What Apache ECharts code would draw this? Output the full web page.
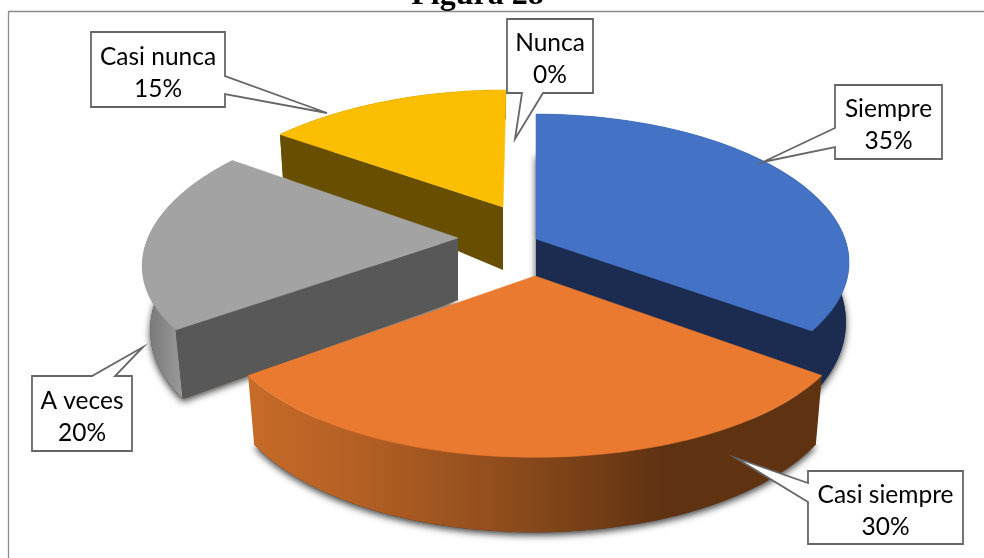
<!DOCTYPE html>
<html>
<head>
<meta charset="utf-8">
<style>html,body{margin:0;padding:0;background:#fff;overflow:hidden}#c{width:984px;height:558px}</style>
<script src="https://cdn.jsdelivr.net/npm/echarts@6/dist/echarts.min.js"></script>
</head>
<body>
<div id="c"></div>
<script>
const categories = ['Siempre', 'Casi siempre', 'A veces', 'Casi nunca', 'Nunca'];
const values = [35, 30, 20, 15, 0];
const chartTitle = 'Figura 28';

// Layout of the exploded pie: one entry per slice
const sliceLayout = [
  {cx:536,cy:239,rx:309,ry:143,kx:.16,d0:57,kd:.3,inset:.01,z:3,top:'#4472c4',rim:'#1b2c50',cut:'#1b2c50',cutEnd:true,shadow:true},
  {cx:535,cy:276,rx:315,ry:155,kx:.19,d0:60,kd:.25,inset:.021,z:4,top:'#e97a2f',rim:'orange',cut:null,shadow:true},
  {cx:458,cy:238,rx:310,ry:143,kx:.19,d0:62,kd:.19,inset:.025,z:2,top:'#a3a3a3',rim:'grey',cut:'#585858',cutStart:true,shadow:true},
  {cx:503,cy:207,rx:309,ry:134,kx:.19,d0:63,kd:.54,inset:.013,z:1,top:'#fcbe00',rim:'#674e00',cut:'#674e00',cutStart:true,skew:.026,shadow:false},
  {cx:503,cy:207,rx:309,ry:134,kx:.19,d0:63,kd:.54,inset:.013,z:0,top:'#fcbe00',rim:'#674e00',cut:null,shadow:false}
];
const KY = .145;
const calloutLayout = [
  {box:[835,85,942,159],side:'left',a:128,b:147,tip:[763,162]},
  {box:[808,471,963,544],side:'left',a:483,b:502,tip:[736,458]},
  {box:[32,376,132,451],side:'top',a:92,b:115,tip:[143,347]},
  {box:[91,32,225,107],side:'right',a:76,b:94,tip:[327,113]},
  {box:[507,19,593,93],side:'bottom',a:522,b:543,tip:[515,139]}
];

const total = values.reduce((a,b)=>a+b,0);
const starts = [];
values.reduce((acc,v,i)=>{starts[i]=acc;return acc+v;},0);

function project(L,theta,h){
  const u=Math.sin(theta), v=Math.cos(theta);
  let x=L.rx*u/(1+L.kx*v), y=-L.ry*v/(1+KY*v);
  if(L.skew) x+=-y*L.skew;
  if(h){ x*=1-L.inset; y+=L.d0*(1-L.kd*v); }
  return [L.cx+x,L.cy+y];
}
function apex(L,h){ return [L.cx,L.cy+(h?L.d0:0)]; }

function rimFill(name){
  if(name==='orange') return new echarts.graphic.LinearGradient(248,0,823,0,[
    {offset:0,color:'#c76b28'},{offset:.2,color:'#b35f24'},{offset:.45,color:'#8e4c1c'},{offset:.72,color:'#5f3212'},{offset:1,color:'#5f3212'}],true);
  if(name==='grey') return new echarts.graphic.LinearGradient(145,0,182,0,[
    {offset:0,color:'#757575'},{offset:1,color:'#9a9a9a'}],true);
  return name;
}
const SH={shadowColor:'rgba(0,0,0,.75)',shadowBlur:7,shadowOffsetX:0,shadowOffsetY:3};

function renderSlice(params,api){
  const i=params.dataIndex, val=api.value(0);
  if(!val) return {type:'group',children:[]};
  const L=sliceLayout[i];
  const a0=starts[i]/total*2*Math.PI, a1=(starts[i]+val)/total*2*Math.PI;
  const N=72, topArc=[], botArc=[];
  for(let k=0;k<=N;k++){
    const t=a0+(a1-a0)*k/N;
    topArc.push(project(L,t,false)); botArc.push(project(L,t,true));
  }
  const ch=[];
  if(L.shadow){
    ch.push({type:'polygon',z2:L.z*10,shape:{points:[apex(L,true)].concat(botArc)},
      style:Object.assign({fill:typeof rimFill(L.rim)==='string'?L.rim:'#5f3212'},SH)});
  }
  ch.push({type:'polygon',z2:L.z*10+1,shape:{points:topArc.concat(botArc.slice().reverse())},
    style:{fill:rimFill(L.rim)}});
  if(L.cut){
    const t=L.cutEnd?a1:a0;
    ch.push({type:'polygon',z2:L.z*10+2,shape:{points:[apex(L,false),project(L,t,false),project(L,t,true),apex(L,true)]},
      style:{fill:L.cut}});
  }
  ch.push({type:'polygon',z2:L.z*10+3,shape:{points:[apex(L,false)].concat(topArc)},style:{fill:L.top,stroke:L.top,lineWidth:.6}});
  return {type:'group',children:ch};
}

function renderCallout(params,api){
  const i=params.dataIndex, C=calloutLayout[i], [x0,y0,x1,y1]=C.box;
  let pts;
  if(C.side==='left') pts=[[x0,y0],[x1,y0],[x1,y1],[x0,y1],[x0,C.b],C.tip,[x0,C.a]];
  if(C.side==='right') pts=[[x0,y0],[x1,y0],[x1,C.a],C.tip,[x1,C.b],[x1,y1],[x0,y1]];
  if(C.side==='top') pts=[[x0,y0],[C.a,y0],C.tip,[C.b,y0],[x1,y0],[x1,y1],[x0,y1]];
  if(C.side==='bottom') pts=[[x0,y0],[x1,y0],[x1,y1],[C.b,y1],C.tip,[C.a,y1],[x0,y1]];
  const mx=(x0+x1)/2, my=(y0+y1)/2;
  const font={fontFamily:'Lato',fontSize:24.5,fill:'#000',align:'center',verticalAlign:'middle'};
  return {type:'group',children:[
    {type:'polygon',z2:100,shape:{points:pts},style:{fill:'#fff',stroke:'#666',lineWidth:1.8,lineJoin:'miter'}},
    {type:'text',z2:101,x:mx,y:my-12.5,style:Object.assign({text:categories[i]},font)},
    {type:'text',z2:101,x:mx,y:my+19.5,style:Object.assign({text:api.value(0)+'%'},font)}
  ]};
}

const chart=echarts.init(document.getElementById('c'),null,{renderer:'canvas'});
chart.setOption({
  animation:false,
  backgroundColor:'#fff',
  graphic:[
    {type:'rect',z:0,shape:{x:8.5,y:11.5,width:1000,height:600},style:{fill:'#fff',stroke:'#8c8c8c',lineWidth:1.3}},
    {type:'text',z:1,x:477.5,y:-4,style:{text:chartTitle,fontFamily:'Liberation Serif',fontWeight:'bold',fontSize:32,fill:'#000',align:'center',verticalAlign:'middle'}}
  ],
  series:[
    {type:'custom',coordinateSystem:'none',z:5,clip:false,data:values.map(v=>[v]),renderItem:renderSlice,encode:{value:0}},
    {type:'custom',coordinateSystem:'none',z:6,clip:false,data:values.map(v=>[v]),renderItem:renderCallout,encode:{value:0}}
  ]
});
</script>
</body>
</html>
